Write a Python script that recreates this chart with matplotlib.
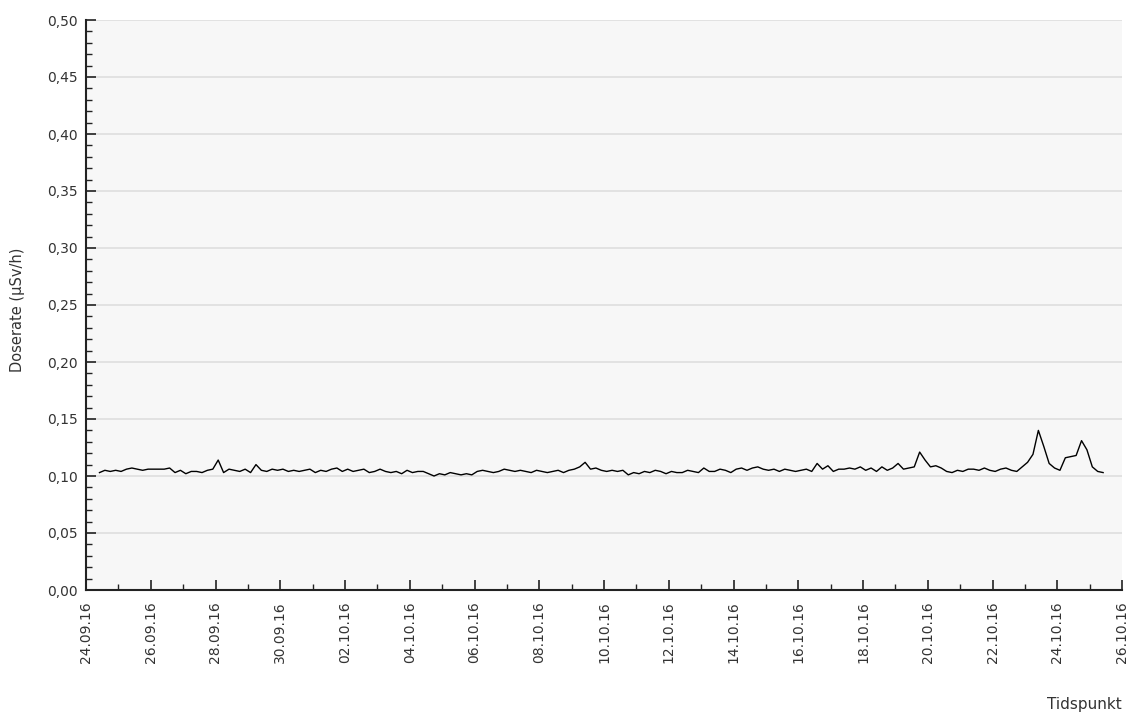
import numpy as np
import matplotlib
matplotlib.use("Agg")
import matplotlib.pyplot as plt
import matplotlib.dates as mdates
from matplotlib.ticker import MultipleLocator, FuncFormatter, FixedLocator

# dose rate readings, 4-hourly from 24.09.16 10:00 (one row per day, 10:00 .. 06:00)
start = np.datetime64("2016-09-24T10:00")
step_h = 4
dose = [
    0.103, 0.105, 0.104, 0.105, 0.104, 0.106,   # 24.09
    0.107, 0.106, 0.105, 0.106, 0.106, 0.106,   # 25.09
    0.106, 0.107, 0.103, 0.105, 0.102, 0.104,   # 26.09
    0.104, 0.103, 0.105, 0.106, 0.114, 0.103,   # 27.09
    0.106, 0.105, 0.104, 0.106, 0.103, 0.110,   # 28.09
    0.105, 0.104, 0.106, 0.105, 0.106, 0.104,   # 29.09
    0.105, 0.104, 0.105, 0.106, 0.103, 0.105,   # 30.09
    0.104, 0.106, 0.107, 0.104, 0.106, 0.104,   # 01.10
    0.105, 0.106, 0.103, 0.104, 0.106, 0.104,   # 02.10
    0.103, 0.104, 0.102, 0.105, 0.103, 0.104,   # 03.10
    0.104, 0.102, 0.100, 0.102, 0.101, 0.103,   # 04.10
    0.102, 0.101, 0.102, 0.101, 0.104, 0.105,   # 05.10
    0.104, 0.103, 0.104, 0.106, 0.105, 0.104,   # 06.10
    0.105, 0.104, 0.103, 0.105, 0.104, 0.103,   # 07.10
    0.104, 0.105, 0.103, 0.105, 0.106, 0.108,   # 08.10
    0.112, 0.106, 0.107, 0.105, 0.104, 0.105,   # 09.10
    0.104, 0.105, 0.101, 0.103, 0.102, 0.104,   # 10.10
    0.103, 0.105, 0.104, 0.102, 0.104, 0.103,   # 11.10
    0.103, 0.105, 0.104, 0.103, 0.107, 0.104,   # 12.10
    0.104, 0.106, 0.105, 0.103, 0.106, 0.107,   # 13.10
    0.105, 0.107, 0.108, 0.106, 0.105, 0.106,   # 14.10
    0.104, 0.106, 0.105, 0.104, 0.105, 0.106,   # 15.10
    0.104, 0.111, 0.106, 0.109, 0.104, 0.106,   # 16.10
    0.106, 0.107, 0.106, 0.108, 0.105, 0.107,   # 17.10
    0.104, 0.108, 0.105, 0.107, 0.111, 0.106,   # 18.10
    0.107, 0.108, 0.121, 0.114, 0.108, 0.109,   # 19.10
    0.107, 0.104, 0.103, 0.105, 0.104, 0.106,   # 20.10
    0.106, 0.105, 0.107, 0.105, 0.104, 0.106,   # 21.10
    0.107, 0.105, 0.104, 0.108, 0.112, 0.119,   # 22.10
    0.140, 0.126, 0.111, 0.107, 0.105, 0.116,   # 23.10
    0.117, 0.118, 0.131, 0.123, 0.108, 0.104,   # 24.10
    0.103,                                      # 25.10
]
times = start + np.arange(len(dose)) * np.timedelta64(step_h, "h")
times = times.astype("datetime64[s]").astype(object)

x_min, x_max = np.datetime64("2016-09-24"), np.datetime64("2016-10-26")
y_ticks = np.arange(0, 0.501, 0.05)
days = np.arange(x_min, x_max + np.timedelta64(1, "D"), np.timedelta64(1, "D"))
major_days = mdates.date2num(days[::2].astype("datetime64[s]").astype(object))
minor_days = mdates.date2num(days[1::2].astype("datetime64[s]").astype(object))

fig = plt.figure(figsize=(11.27, 7.15), dpi=100)
ax = fig.add_axes([86/1127, 125/715, 1036/1127, 570/715])
ax.set_facecolor("#f7f7f7")

ax.plot(times, dose, color="black", lw=1.0)

ax.set_xlim(x_min.astype("datetime64[s]").astype(object), x_max.astype("datetime64[s]").astype(object))
ax.set_ylim(0, 0.5)
ax.set_yticks(y_ticks)
ax.yaxis.set_minor_locator(MultipleLocator(0.01))
ax.yaxis.set_major_formatter(FuncFormatter(lambda v, p: f"{v:.2f}".replace(".", ",")))
ax.grid(axis="y", color="#dedede", lw=1.2)
ax.set_axisbelow(True)

ax.xaxis.set_major_locator(FixedLocator(major_days))
ax.xaxis.set_minor_locator(FixedLocator(minor_days))
ax.xaxis.set_major_formatter(mdates.DateFormatter("%d.%m.%y"))
for lab in ax.get_xticklabels():
    lab.set_rotation(90)

for s in ("top", "right"):
    ax.spines[s].set_visible(False)
for s in ("left", "bottom"):
    ax.spines[s].set_color("#222222")
    ax.spines[s].set_linewidth(1.5)

ax.tick_params(which="major", direction="in", length=7, width=1.2, color="#222222",
               labelsize=10, labelcolor="#333333", pad=6)
ax.tick_params(which="minor", direction="in", length=4.5, width=1.0, color="#222222")
ax.tick_params(axis="x", pad=8)

fig.text(18/1127, 1 - 310/715, "Doserate (µSv/h)", rotation=90, ha="center", va="center",
         fontsize=10.5, color="#333333")
fig.text(1122/1127, 1 - 705/715, "Tidspunkt", ha="right", va="center", fontsize=11, color="#333333")

fig.savefig("out.png", dpi=100)
